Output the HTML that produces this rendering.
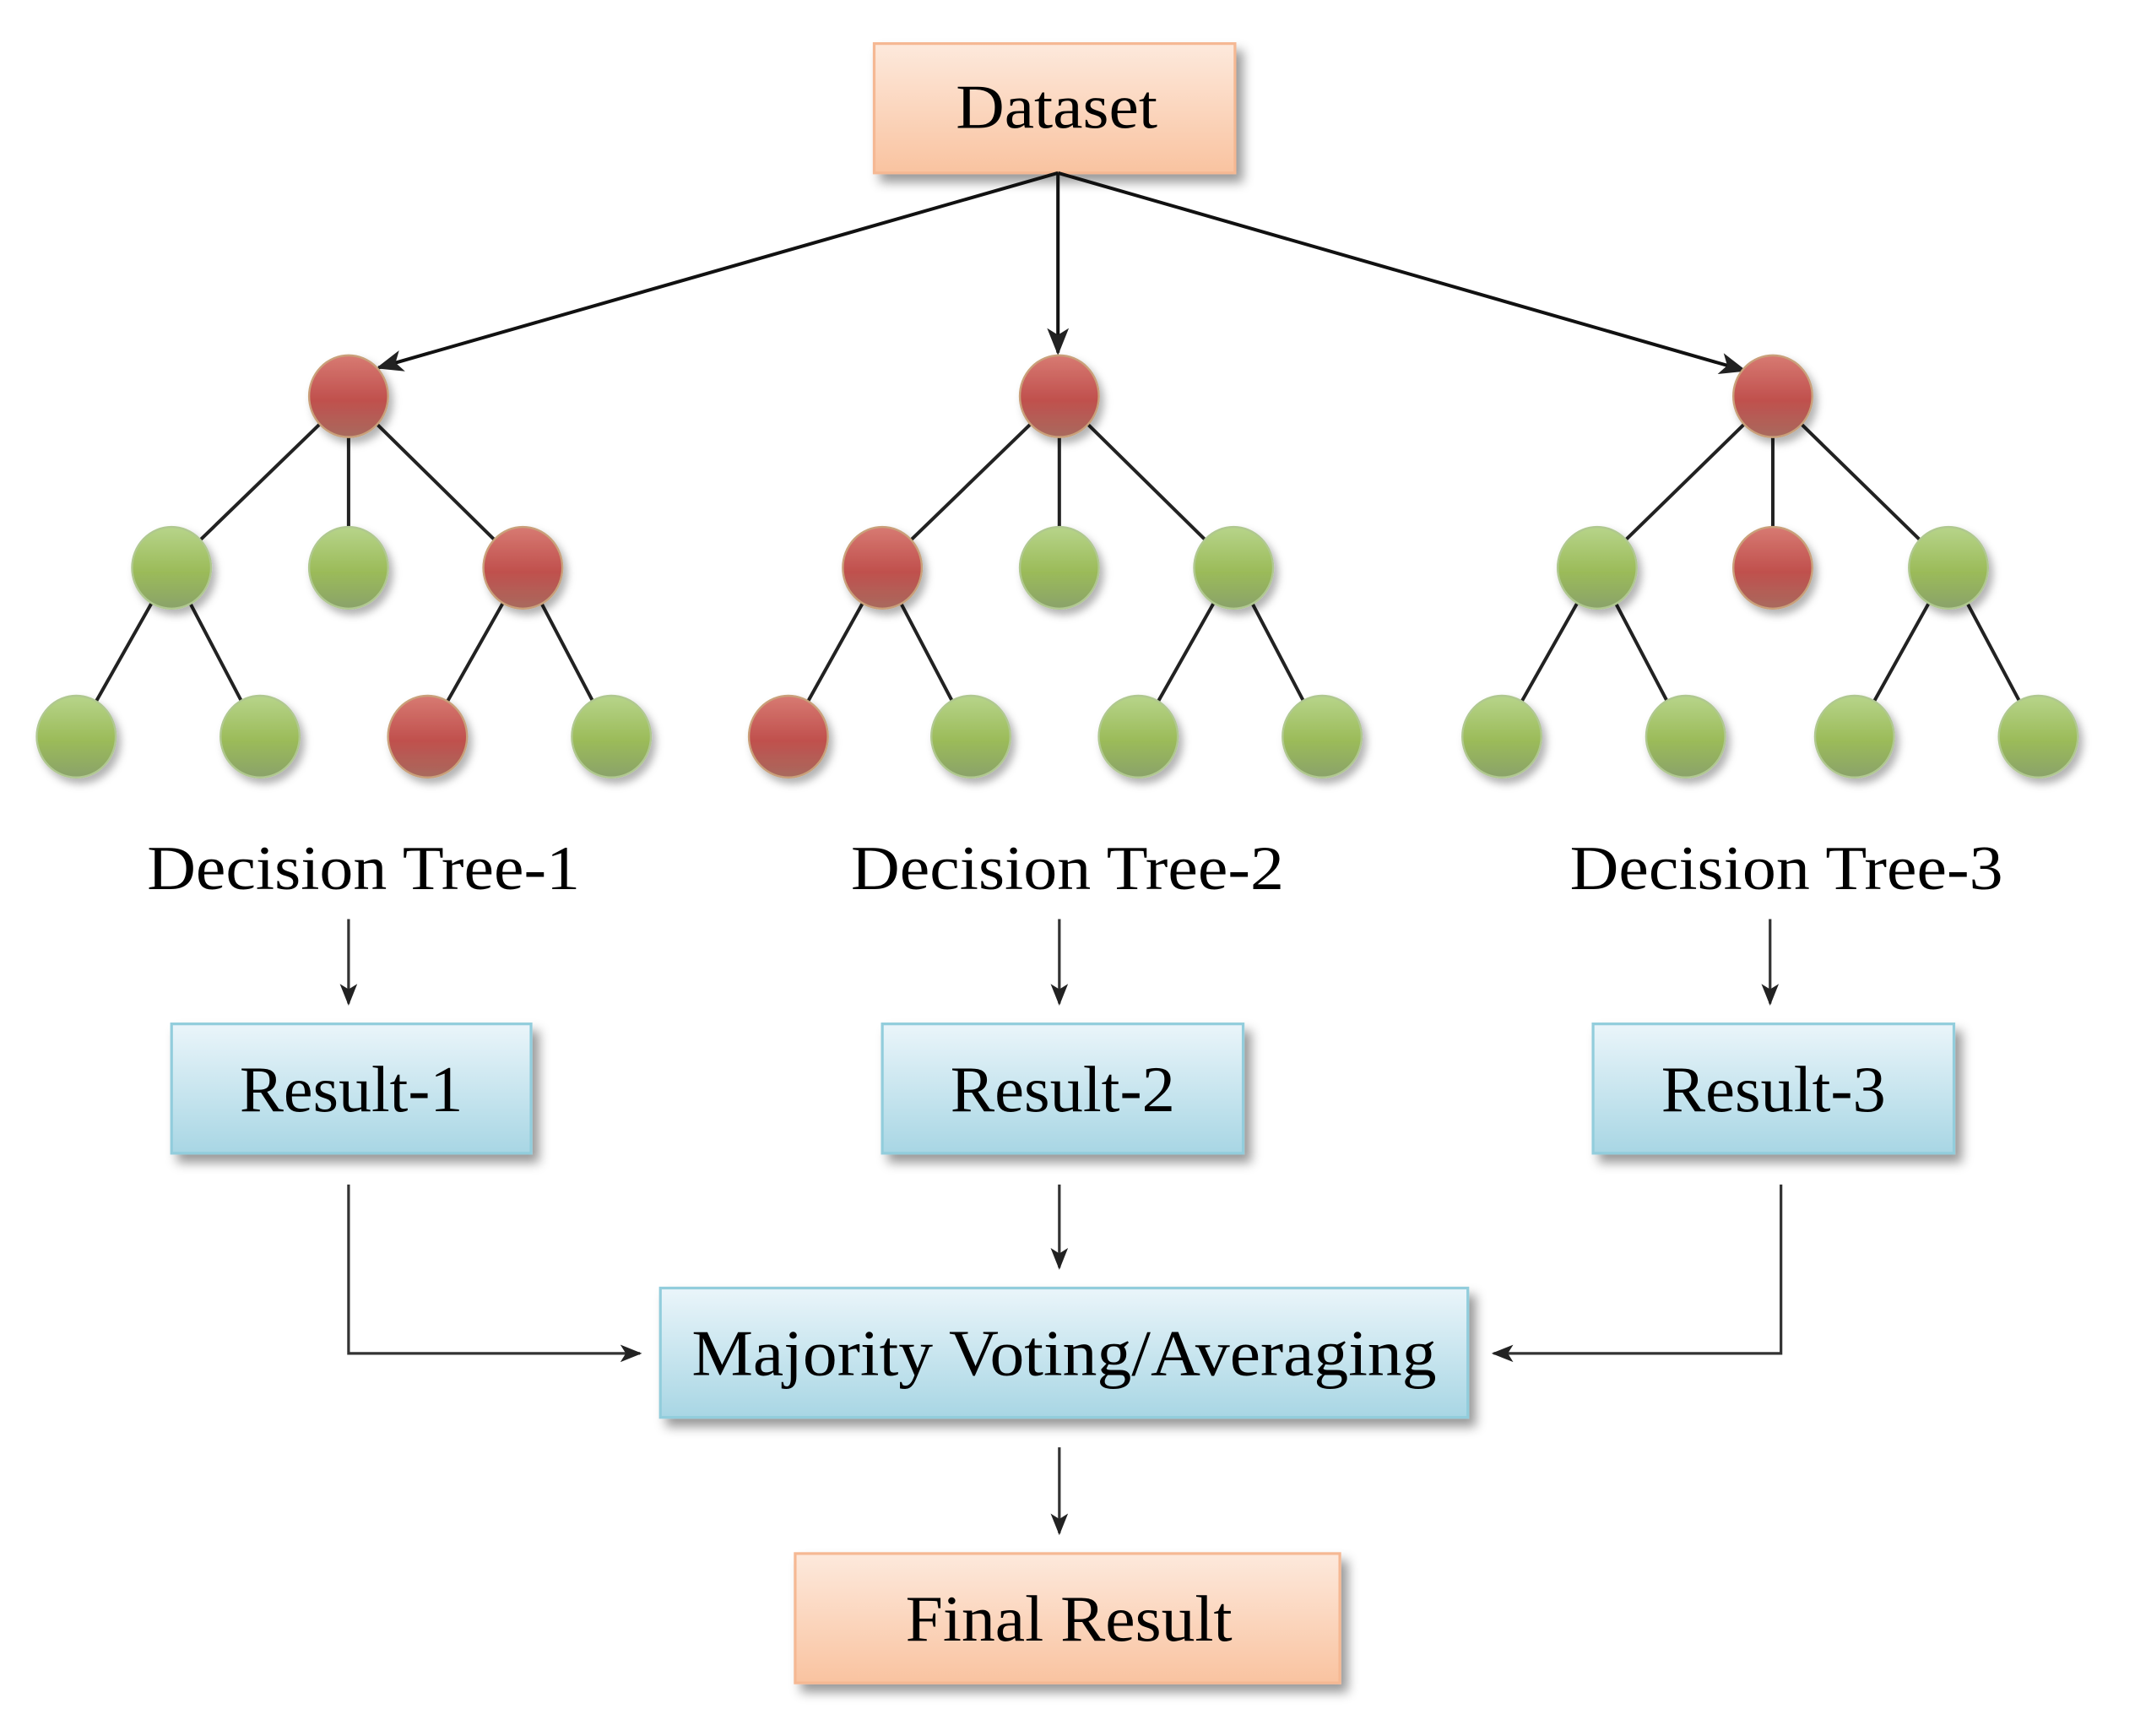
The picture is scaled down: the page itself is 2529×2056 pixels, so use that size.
<!DOCTYPE html>
<html><head><meta charset="utf-8"><style>html,body{margin:0;padding:0;background:#fff}svg{display:block}</style></head>
<body>
<svg width="2529" height="2056" viewBox="0 0 1568 1275" preserveAspectRatio="none" xmlns="http://www.w3.org/2000/svg">
<defs>
<linearGradient id="org" x1="0" y1="0" x2="0" y2="1"><stop offset="0" stop-color="#fde9dc"/><stop offset="1" stop-color="#f9c3a0"/></linearGradient>
<linearGradient id="blu" x1="0" y1="0" x2="0" y2="1"><stop offset="0" stop-color="#eaf5fa"/><stop offset="1" stop-color="#a8d6e4"/></linearGradient>
<linearGradient id="red" x1="0" y1="0" x2="0" y2="1"><stop offset="0" stop-color="#d77a72"/><stop offset="0.55" stop-color="#c0504d"/><stop offset="1" stop-color="#a86a5e"/></linearGradient>
<linearGradient id="grn" x1="0" y1="0" x2="0" y2="1"><stop offset="0" stop-color="#b7d48a"/><stop offset="0.55" stop-color="#9bbb59"/><stop offset="1" stop-color="#8aa26a"/></linearGradient>
<filter id="sh" x="-20%" y="-20%" width="150%" height="160%"><feDropShadow dx="5" dy="6" stdDeviation="4" flood-color="#000" flood-opacity="0.4"/></filter>
<filter id="csh" x="-30%" y="-30%" width="170%" height="170%"><feDropShadow dx="3" dy="4" stdDeviation="3" flood-color="#000" flood-opacity="0.3"/></filter>
<marker id="ah2" viewBox="0 0 10 10" refX="9" refY="5" markerWidth="8" markerHeight="8" orient="auto"><path d="M0,1 L10,5 L0,9 L2.5,5 z" fill="#222"/></marker>
</defs>
<g font-family="'Liberation Serif', serif" fill="#000">
<rect x="642" y="32" width="265" height="95" fill="url(#org)" stroke="#f5b893" stroke-width="2" filter="url(#sh)"/>
<text x="702" y="94" font-size="46" textLength="148" lengthAdjust="spacingAndGlyphs">Dataset</text>
<g stroke="#111" stroke-width="2.5" fill="none">
<line x1="777" y1="127" x2="278" y2="270" marker-end="url(#ah2)"/>
<line x1="777" y1="127" x2="777" y2="259" marker-end="url(#ah2)"/>
<line x1="777" y1="127" x2="1281" y2="272" marker-end="url(#ah2)"/>
</g>
<g stroke="#222" stroke-width="2.5">
<line x1="256" y1="291" x2="126" y2="417"/><line x1="256" y1="291" x2="256" y2="417"/><line x1="256" y1="291" x2="384" y2="417"/>
<line x1="126" y1="417" x2="56" y2="541"/><line x1="126" y1="417" x2="191" y2="541"/>
<line x1="384" y1="417" x2="314" y2="541"/><line x1="384" y1="417" x2="449" y2="541"/>
<line x1="778" y1="291" x2="648" y2="417"/><line x1="778" y1="291" x2="778" y2="417"/><line x1="778" y1="291" x2="906" y2="417"/>
<line x1="648" y1="417" x2="579" y2="541"/><line x1="648" y1="417" x2="713" y2="541"/>
<line x1="906" y1="417" x2="836" y2="541"/><line x1="906" y1="417" x2="971" y2="541"/>
<line x1="1302" y1="291" x2="1173" y2="417"/><line x1="1302" y1="291" x2="1302" y2="417"/><line x1="1302" y1="291" x2="1431" y2="417"/>
<line x1="1173" y1="417" x2="1103" y2="541"/><line x1="1173" y1="417" x2="1238" y2="541"/>
<line x1="1431" y1="417" x2="1362" y2="541"/><line x1="1431" y1="417" x2="1497" y2="541"/>
</g>
<g filter="url(#csh)" stroke-width="1.5">
<g fill="url(#red)" stroke="#c9a07a">
<ellipse cx="256" cy="291" rx="29" ry="30"/><ellipse cx="384" cy="417" rx="29" ry="30"/><ellipse cx="314" cy="541" rx="29" ry="30"/>
<ellipse cx="778" cy="291" rx="29" ry="30"/><ellipse cx="648" cy="417" rx="29" ry="30"/><ellipse cx="579" cy="541" rx="29" ry="30"/>
<ellipse cx="1302" cy="291" rx="29" ry="30"/><ellipse cx="1302" cy="417" rx="29" ry="30"/>
</g>
<g fill="url(#grn)" stroke="#b0c890">
<ellipse cx="126" cy="417" rx="29" ry="30"/><ellipse cx="256" cy="417" rx="29" ry="30"/>
<ellipse cx="56" cy="541" rx="29" ry="30"/><ellipse cx="191" cy="541" rx="29" ry="30"/><ellipse cx="449" cy="541" rx="29" ry="30"/>
<ellipse cx="778" cy="417" rx="29" ry="30"/><ellipse cx="906" cy="417" rx="29" ry="30"/>
<ellipse cx="713" cy="541" rx="29" ry="30"/><ellipse cx="836" cy="541" rx="29" ry="30"/><ellipse cx="971" cy="541" rx="29" ry="30"/>
<ellipse cx="1173" cy="417" rx="29" ry="30"/><ellipse cx="1431" cy="417" rx="29" ry="30"/>
<ellipse cx="1103" cy="541" rx="29" ry="30"/><ellipse cx="1238" cy="541" rx="29" ry="30"/><ellipse cx="1362" cy="541" rx="29" ry="30"/><ellipse cx="1497" cy="541" rx="29" ry="30"/>
</g>
</g>
<g font-size="46">
<text x="108" y="653" textLength="318" lengthAdjust="spacingAndGlyphs">Decision Tree-1</text>
<text x="625" y="653" textLength="318" lengthAdjust="spacingAndGlyphs">Decision Tree-2</text>
<text x="1153" y="653" textLength="318" lengthAdjust="spacingAndGlyphs">Decision Tree-3</text>
</g>
<g stroke="#333" stroke-width="2" fill="none">
<line x1="256" y1="675" x2="256" y2="737" marker-end="url(#ah2)"/>
<line x1="778" y1="675" x2="778" y2="737" marker-end="url(#ah2)"/>
<line x1="1300" y1="675" x2="1300" y2="737" marker-end="url(#ah2)"/>
<line x1="778" y1="870" x2="778" y2="931" marker-end="url(#ah2)"/>
<line x1="778" y1="1063" x2="778" y2="1126" marker-end="url(#ah2)"/>
<polyline points="256,870 256,994 470,994" marker-end="url(#ah2)"/>
<polyline points="1308,870 1308,994 1097,994" marker-end="url(#ah2)"/>
</g>
<g fill="url(#blu)" stroke="#92cddc" stroke-width="2" filter="url(#sh)">
<rect x="126" y="752" width="264" height="95"/>
<rect x="648" y="752" width="265" height="95"/>
<rect x="1170" y="752" width="265" height="95"/>
<rect x="485" y="946" width="593" height="95"/>
</g>
<g font-size="48">
<text x="176" y="816" textLength="164" lengthAdjust="spacingAndGlyphs">Result-1</text>
<text x="698" y="816" textLength="165" lengthAdjust="spacingAndGlyphs">Result-2</text>
<text x="1220" y="816" textLength="165" lengthAdjust="spacingAndGlyphs">Result-3</text>
<text x="508" y="1010" textLength="547" lengthAdjust="spacingAndGlyphs">Majority Voting/Averaging</text>
</g>
<rect x="584" y="1141" width="400" height="95" fill="url(#org)" stroke="#f5b893" stroke-width="2" filter="url(#sh)"/>
<text x="665" y="1205" font-size="48" textLength="240" lengthAdjust="spacingAndGlyphs">Final Result</text>
</g>
</svg>
</body></html>
